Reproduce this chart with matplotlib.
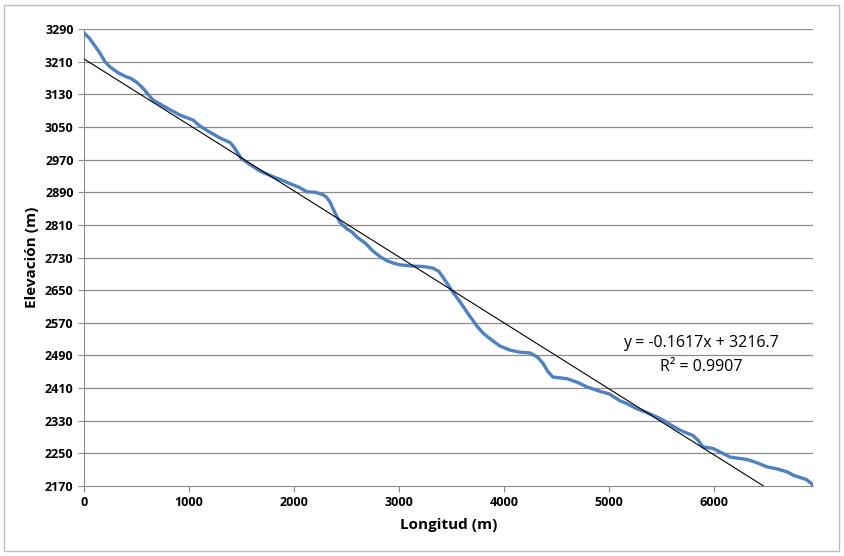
import numpy as np
from matplotlib import pyplot as plt
from matplotlib.patches import Rectangle

# perfil de elevacion
longitud = [0, 50, 100, 152, 200, 248, 330, 410, 438, 500, 562, 610, 657, 780, 914, 1038,
            1105, 1200, 1295, 1390, 1419, 1460, 1500, 1580, 1676, 1800, 1900, 1962, 2050,
            2124, 2200, 2276, 2310, 2343, 2390, 2438, 2505, 2550, 2600, 2680, 2752, 2820,
            2886, 2950, 3010, 3133, 3230, 3324, 3380, 3419, 3514, 3580, 3648, 3743, 3800,
            3867, 3962, 4057, 4150, 4248, 4320, 4371, 4420, 4467, 4600, 4700, 4790, 4914,
            5000, 5105, 5171, 5260, 5362, 5440, 5514, 5600, 5676, 5740, 5800, 5850, 5895,
            5990, 6070, 6152, 6314, 6400, 6505, 6600, 6695, 6760, 6819, 6880, 6943]
elevacion = [3280, 3268, 3250, 3231, 3210, 3197, 3182, 3172, 3170, 3160, 3145, 3130, 3116,
             3098, 3079, 3067, 3052, 3037, 3023, 3012, 3004, 2988, 2972, 2958, 2942, 2928,
             2918, 2911, 2902, 2891, 2890, 2884, 2878, 2866, 2840, 2816, 2800, 2793, 2780,
             2765, 2746, 2732, 2722, 2716, 2712, 2709, 2708, 2704, 2696, 2682, 2645, 2622,
             2596, 2562, 2545, 2531, 2513, 2503, 2498, 2496, 2486, 2471, 2450, 2437, 2433,
             2424, 2413, 2402, 2396, 2379, 2372, 2360, 2350, 2341, 2332, 2318, 2307, 2300,
             2294, 2282, 2266, 2262, 2252, 2241, 2235, 2228, 2217, 2212, 2205, 2196, 2191,
             2186, 2173]

pendiente = -0.1617
intercepto = 3216.7
r2 = 0.9907

y_ticks = list(range(2170, 3291, 80))
x_ticks = [0, 1000, 2000, 3000, 4000, 5000, 6000]

plt.rcParams['font.family'] = ['Open Sans', 'DejaVu Sans']

fig = plt.figure(figsize=(8.45, 5.56), dpi=100)
ax = fig.add_axes([0.0994, 0.1259, 0.8626, 0.8219])

fig.patches.append(Rectangle((4 / 845, 5 / 556), 835 / 845, 546 / 556, transform=fig.transFigure,
                             fill=False, edgecolor='#bfbfbf', linewidth=1.0))

for t in y_ticks[1:]:
    ax.axhline(t, color='#8c8c8c', linewidth=0.9, zorder=1)

ax.plot(longitud, elevacion, color='#4f81bd', linewidth=2.4, zorder=3)

x_fin = (y_ticks[0] - intercepto) / pendiente
xt = np.array([0, x_fin])
ax.plot(xt, pendiente * xt + intercepto, color='black', linewidth=0.8, zorder=4)

ax.text(5876, 2520, 'y = -0.1617x + 3216.7', ha='center', va='center', fontsize=11.5)
ax.text(5876, 2461, 'R² = 0.9907', ha='center', va='center', fontsize=11.5)

ax.set_xlim(0, 6943)
ax.set_ylim(2170, 3290)
ax.set_xticks(x_ticks)
ax.set_yticks(y_ticks)
ax.tick_params(axis='both', labelsize=9, color='#8c8c8c', length=4, direction='out')
for lbl in ax.get_xticklabels() + ax.get_yticklabels():
    lbl.set_fontweight('bold')

for side in ['top', 'right']:
    ax.spines[side].set_visible(False)
for side in ['left', 'bottom']:
    ax.spines[side].set_color('#8c8c8c')

ax.set_xlabel('Longitud (m)', fontsize=11, fontweight='bold', labelpad=6)
ax.set_ylabel('Elevación (m)', fontsize=11, fontweight='bold', labelpad=4)

fig.savefig('out.png', dpi=100)
